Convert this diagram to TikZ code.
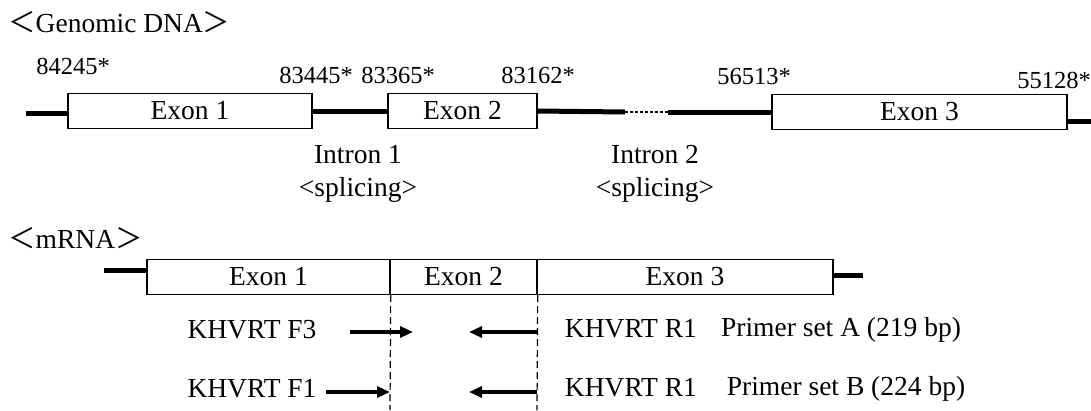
\documentclass[tikz,border=0pt]{standalone}
\usepackage{fontspec}
\setmainfont{Liberation Serif}
\newfontfamily\cjk{Noto Sans CJK JP}
\usetikzlibrary{arrows.meta,positioning,calc}

\begin{document}
\begin{tikzpicture}[x=1pt, y=-1pt,
	every node/.style={font=\fontsize{27.5}{33}\selectfont, inner sep=0pt},
	exon/.style={draw, rectangle, line width=1.4pt, minimum height=35pt},
	num/.style={font=\fontsize{24.5}{28}\selectfont},
	dna/.style={line width=5pt},
	primer/.style={line width=3.5pt, -{Triangle[length=13pt,width=11pt]}},
	guide/.style={line width=1.2pt, dash pattern=on 7pt off 4pt}]

	\useasboundingbox (0,0) rectangle (1091,410);

	% genomic DNA
	\node[anchor=west, shift = {(8, 22)}] (t_dna) {{\cjk ＜}Genomic DNA{\cjk ＞}};

	\node[exon, minimum width=244pt, shift = {(190, 111)}] (g_ex1) {Exon 1};
	\node[exon, minimum width=149pt, shift = {(462.5, 111)}] (g_ex2) {Exon 2};
	\node[exon, minimum width=295pt, shift = {(919.5, 112)}] (g_ex3) {Exon 3};

	\node[num, shift = {(73, 66)}] (n_84245) {84245*};
	\node[num, shift = {(316, 75)}] (n_83445) {83445*};
	\node[num, shift = {(398, 75)}] (n_83365) {83365*};
	\node[num, shift = {(538, 75)}] (n_83162) {83162*};
	\node[num, shift = {(754, 77)}] (n_56513) {56513*};
	\node[num, shift = {(1054, 80)}] (n_55128) {55128*};

	\coordinate (g_start) at (26, 113);
	\coordinate (i2_a) at (625, 112);
	\coordinate (i2_b) at (668, 112);
	\coordinate (g_end) at (1091, 121);

	\path[dna] (g_start) edge (g_ex1.west |- g_start);
	\path[dna] (g_ex1.east) edge (g_ex2.west);
	\path[dna] (g_ex2.east) edge (i2_a);
	\path[line width=2.5pt, dash pattern=on 2.5pt off 2.5pt] (i2_a) edge (i2_b);
	\path[dna] (i2_b) edge (g_ex3.west);
	\path[dna] (g_ex3.east |- g_end) edge (g_end);

	\node[shift = {(358, 173)}] (intron1) {
		\begin{tabular}{c}
			Intron 1\\
			<splicing>
		\end{tabular}
	};
	\node[shift = {(655, 173)}] (intron2) {
		\begin{tabular}{c}
			Intron 2\\
			<splicing>
		\end{tabular}
	};

	% mRNA
	\node[anchor=west, shift = {(8, 238)}] (t_mrna) {{\cjk ＜}mRNA{\cjk ＞}};

	\node[exon, minimum width=243pt, shift = {(268.5, 277)}] (m_ex1) {Exon 1};
	\node[exon, minimum width=147pt, shift = {(463.5, 277)}] (m_ex2) {Exon 2};
	\node[exon, minimum width=296pt, shift = {(685, 277)}] (m_ex3) {Exon 3};

	\coordinate (m_start) at (104, 270);
	\coordinate (m_end) at (863, 275);
	\path[dna] (m_start) edge (m_ex1.west |- m_start);
	\path[dna] (m_ex3.east |- m_end) edge (m_end);

	\coordinate (d_12) at (390, 410);
	\coordinate (d_23) at (537, 410);
	\path[guide] (m_ex1.south east) edge (d_12);
	\path[guide] (m_ex2.south east) edge (d_23);

	% primers
	\node[shift = {(252, 330)}] (f3) {KHVRT F3};
	\node[shift = {(252, 389)}] (f1) {KHVRT F1};
	\node[shift = {(631, 329)}] (r1_a) {KHVRT R1};
	\node[shift = {(631, 388)}] (r1_b) {KHVRT R1};
	\node[shift = {(841, 330)}] (set_a) {Primer set A (219 bp)};
	\node[shift = {(846, 389)}] (set_b) {Primer set B (224 bp)};

	\coordinate (f3_s) at (350, 332);
	\coordinate (f3_e) at (413, 332);
	\coordinate (f1_s) at (326, 392);
	\coordinate (f1_e) at (390, 392);
	\coordinate (ra_s) at (537, 332);
	\coordinate (ra_e) at (469, 332);
	\coordinate (rb_s) at (537, 392);
	\coordinate (rb_e) at (469, 392);

	\path[primer] (f3_s) edge (f3_e);
	\path[primer] (f1_s) edge (f1_e);
	\path[primer] (ra_s) edge (ra_e);
	\path[primer] (rb_s) edge (rb_e);
\end{tikzpicture}
\end{document}
